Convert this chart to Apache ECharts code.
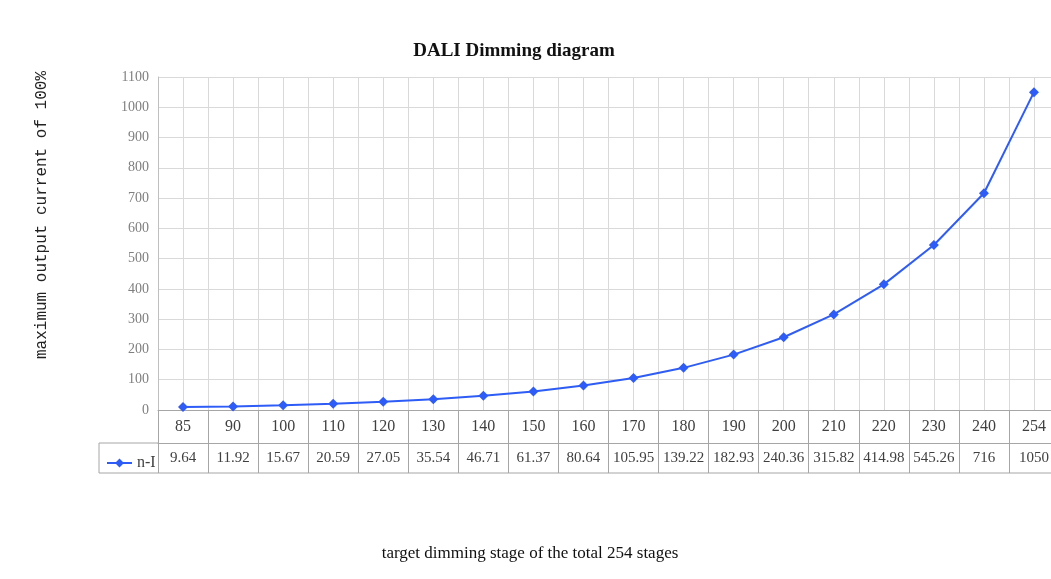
<!DOCTYPE html>
<html>
<head>
<meta charset="utf-8">
<script src="https://cdn.jsdelivr.net/npm/echarts@6/dist/echarts.min.js"></script>
<style>
html,body{margin:0;padding:0;background:#fff;overflow:hidden;}
#c{width:1062px;height:579px;}
</style>
</head>
<body>
<div id="c"></div>
<script>
const titleText = 'DALI Dimming diagram';
const yTitle = 'maximum output current of 100%';
const xTitle = 'target dimming stage of the total 254 stages';
const seriesName = 'n-I';
const categories = ['85','90','100','110','120','130','140','150','160','170','180','190','200','210','220','230','240','254'];
const values = [9.64, 11.92, 15.67, 20.59, 27.05, 35.54, 46.71, 61.37, 80.64, 105.95, 139.22, 182.93, 240.36, 315.82, 414.98, 545.26, 716, 1050];
const yMin = 0, yMax = 1100, yStep = 100;

const numFont = 'Liberation Serif';
const blue = '#2e5cf6';
const border = '#a6a6a6';
const gridC = '#d9d9d9';

const GL = 158, GT = 77, GW = 901, GH = 333;
const ROW = 33;

const chart = echarts.init(document.getElementById('c'));
chart.setOption({
  backgroundColor: '#fff',
  animation: false,
  title: [
    { text: titleText, left: 509, top: 37, textAlign: 'center',
      textStyle: { fontFamily: numFont, fontWeight: 'bold', fontSize: 19, color: '#111' } },
    { text: xTitle, left: 525, top: 540, textAlign: 'center',
      textStyle: { fontFamily: numFont, fontWeight: 'normal', fontSize: 17, color: '#111' } }
  ],
  legend: {
    data: [seriesName], left: 101, top: 450, itemWidth: 25, itemHeight: 11, itemGap: 4,
    textStyle: { fontFamily: numFont, fontSize: 16, color: '#404040' }
  },
  grid: { left: GL, top: GT, width: GW, height: GH, containLabel: false },
  xAxis: [
    { type: 'category', data: categories, position: 'bottom', boundaryGap: true,
      axisLine: { show: true, lineStyle: { color: border } },
      axisTick: { show: true, interval: 0, length: ROW, lineStyle: { color: border } },
      axisLabel: { interval: 0, margin: 9, fontFamily: numFont, fontSize: 16, color: '#404040' },
      splitLine: { show: false } },
    { type: 'category', data: categories, position: 'bottom', offset: ROW, boundaryGap: true,
      axisLine: { show: true, lineStyle: { color: border } },
      axisTick: { show: true, interval: 0, length: 30, lineStyle: { color: border } },
      axisLabel: { interval: 0, margin: 8, fontFamily: numFont, fontSize: 15, color: '#404040',
        formatter: (v, i) => String(values[i]) },
      splitLine: { show: false } },
    { type: 'value', min: 0, max: categories.length * 2, interval: 1, show: true,
      axisLine: { show: false }, axisTick: { show: false }, axisLabel: { show: false },
      splitLine: { show: true, lineStyle: { color: gridC, width: 1 } } }
  ],
  yAxis: {
    type: 'value', min: yMin, max: yMax, interval: yStep,
    axisLine: { show: true, lineStyle: { color: '#bfbfbf' } },
    axisTick: { show: false },
    axisLabel: { margin: 9, fontFamily: numFont, fontSize: 14, color: '#7f7f7f', formatter: v => String(v) },
    splitLine: { show: true, lineStyle: { color: gridC, width: 1 } }
  },
  series: [{
    name: seriesName, type: 'line', data: values, xAxisIndex: 0,
    symbol: 'diamond', symbolSize: 10, showAllSymbol: true,
    lineStyle: { color: blue, width: 2 }, itemStyle: { color: blue }
  }],
  graphic: [
    { type: 'line', shape: { x1: 99, y1: GT + GH + ROW, x2: GL, y2: GT + GH + ROW }, style: { stroke: border, lineWidth: 1 } },
    { type: 'line', shape: { x1: 99, y1: GT + GH + ROW + 30, x2: GL + GW, y2: GT + GH + ROW + 30 }, style: { stroke: border, lineWidth: 1 } },
    { type: 'line', shape: { x1: 99, y1: GT + GH + ROW, x2: 99, y2: GT + GH + ROW + 30 }, style: { stroke: border, lineWidth: 1 } },
    { type: 'text', x: 42, y: 215, rotation: Math.PI / 2,
      style: { text: yTitle, fontFamily: 'Liberation Mono', fontSize: 16, fill: '#222', textAlign: 'center', textVerticalAlign: 'middle' } }
  ]
});
</script>
</body>
</html>
